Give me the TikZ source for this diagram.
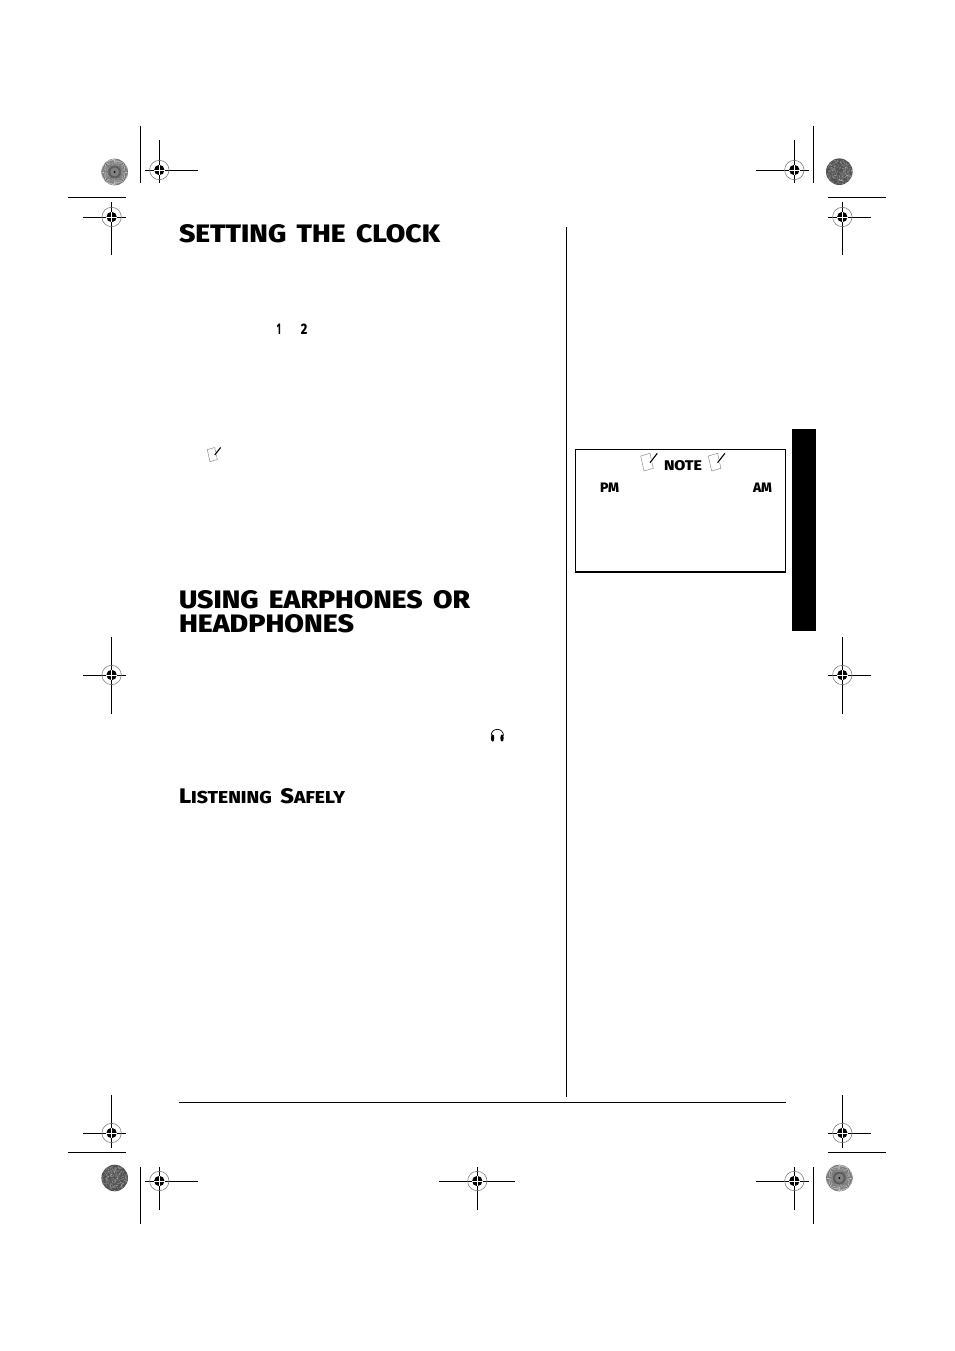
\documentclass[tikz,border=0pt]{standalone}
\usepackage{graphicx}
\usepackage{fontspec}
\newfontfamily\headfont[WordSpace=1.6]{Fira Sans ExtraBold}
\newcommand{\fitbox}[3]{\resizebox{#1pt}{#2pt}{\headfont #3}}
\usetikzlibrary{calc}
\tikzset{
  page text/.style={inner sep=0pt,outer sep=0pt,anchor=base west,text=black},
  crop rule/.style={draw=black,line width=0.85pt},
  column rule/.style={draw=black,line width=0.9pt},
  target ring/.style={draw=black!50,line width=0.6pt},
  sheet outline/.style={draw=black!45,line width=0.5pt,line join=round},
  pen stroke/.style={draw=black,line width=1.1pt},
  note frame/.style={draw=black,line width=1.6pt},
}
% center x, center y, h-from, h-to, v-from, v-to
\newcommand{\regmark}[6]{%
  \draw[crop rule] (#3,#2) -- (#4,#2);
  \draw[crop rule] (#1,#5) -- (#1,#6);
  \draw[target ring] (#1,#2) circle (9.7);
  \fill[black] (#1,#2) circle (5.2);
  \draw[white,line width=0.4pt] (#1-5.2,#2) -- (#1+5.2,#2) (#1,#2-5.2) -- (#1,#2+5.2);
}
\newcommand{\raydisk}[2]{%
  \fill[black!55] (#1,#2) circle (13.3);
  \foreach \a in {0,5,...,359} {
    \draw[white,line width=0.6pt] ($(#1,#2)+(\a:6.5)$) -- ($(#1,#2)+(\a:13.1)$);
  }
  \foreach \a in {2.5,7.5,...,359} {
    \draw[black!65,line width=0.4pt] ($(#1,#2)+(\a:3)$) -- ($(#1,#2)+(\a:13.1)$);
  }
  \fill[black!50] (#1,#2) circle (4.5);
  \fill[black] (#1,#2) circle (1);
}
\newcommand{\darkdisk}[2]{%
  \fill[black!68] (#1,#2) circle (13.3);
  \foreach \i in {1,...,220} {
    \pgfmathsetmacro{\aa}{rnd*360}
    \pgfmathsetmacro{\rr}{sqrt(rnd)*12.6}
    \fill[white,opacity=0.22] ($(#1,#2)+(\aa:\rr)$) circle (0.7);
  }
}
\newcommand{\noteicon}[3]{%
  \begin{scope}[shift={(#1,#2)},scale=#3]
    \draw[sheet outline] (0,2.7) -- (9.3,0) -- (12.6,15) -- (3.3,17.7) -- cycle;
    \fill[white] (8,10) -- (10.5,10.5) -- (17,0) -- (14,0) -- cycle;
    \draw[pen stroke] (9.3,9.4) -- (16.6,0);
  \end{scope}
}
\begin{document}
\begin{tikzpicture}[x=1pt,y=-1pt]
\useasboundingbox (0,0) rectangle (954,1351);
\fill[white] (0,0) rectangle (954,1351);
\pgfmathsetseed{42}

% top-left registration
\regmark{159.3}{170}{145}{198}{140}{183}
\regmark{111.6}{217}{83}{126}{202}{255}
\draw[crop rule] (140.3,126) -- (140.3,183);
\draw[crop rule] (68,197.3) -- (126,197.3);
\raydisk{114.7}{172}

% top-right registration
\regmark{794.3}{170}{756}{809}{140}{183}
\regmark{842.3}{217}{828}{871}{202}{255}
\draw[crop rule] (813.3,126) -- (813.3,183);
\draw[crop rule] (828,197.3) -- (886,197.3);
\darkdisk{839.3}{171.7}

% middle registration
\regmark{111.6}{675}{83}{126}{637}{714}
\regmark{842.3}{675}{828}{871}{637}{714}

% bottom registration
\regmark{111.6}{1133}{83}{126}{1095}{1148}
\regmark{159.3}{1181}{145}{198}{1167}{1210}
\draw[crop rule] (140.3,1167) -- (140.3,1224);
\draw[crop rule] (68,1152.3) -- (126,1152.3);
\darkdisk{114.7}{1178}
\regmark{477.3}{1181}{439}{515}{1167}{1210}
\regmark{842.3}{1133}{828}{871}{1095}{1148}
\regmark{794.3}{1181}{756}{809}{1167}{1210}
\draw[crop rule] (813.3,1167) -- (813.3,1224);
\draw[crop rule] (828,1152.3) -- (886,1152.3);
\raydisk{839.3}{1178}

% rules and tab
\draw[column rule] (566,227) -- (566,1097);
\draw[column rule] (179,1102.5) -- (786,1102.5);
\fill[black] (792,429) rectangle (816,631);

% headings
\node[page text] (h1) at (179,242) {\fitbox{261}{18}{SETTING THE CLOCK}};
\node[page text] (h2a) at (179,608) {\fitbox{291}{18}{USING EARPHONES OR}};
\node[page text] (h2b) at (179,632) {\fitbox{175}{18}{HEADPHONES}};
\node[page text] (h3) at (179,803) {\resizebox{166pt}{15pt}{\headfont L{\fontsize{8.2}{10}\selectfont ISTENING} S{\fontsize{8.2}{10}\selectfont AFELY}}};

% LCD glyphs
\node[page text] (d1) at (276.8,334) {\fitbox{4}{10.5}{1}};
\node[page text] (d2) at (300.8,334) {\fitbox{6.5}{10.5}{2}};

% note icon in text
\noteicon{207.3}{447.5}{0.8}

% headphones
\draw[black,line width=0.7pt] (491.1,735.5) arc[start angle=180,end angle=360,radius=6.2];
\fill[black] (492.6,738) ellipse (1.7 and 3.6);
\fill[black] (502,738) ellipse (1.7 and 3.6);

% note box
\draw[note frame] (575.6,449.6) rectangle (785.6,572);
\noteicon{640.7}{453.3}{1}
\noteicon{708.3}{453.3}{1}
\node[page text] (note) at (664,470) {\fitbox{38}{10}{NOTE}};
\node[page text] (pm) at (600,492) {\fitbox{19}{9.5}{PM}};
\node[page text] (am) at (753,492) {\fitbox{19}{9.5}{AM}};
\end{tikzpicture}
\end{document}
